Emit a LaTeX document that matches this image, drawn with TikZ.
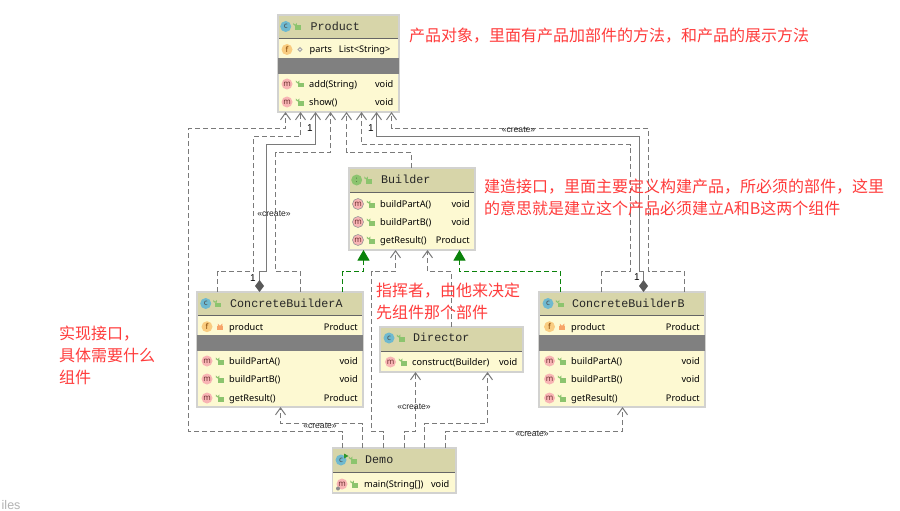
\documentclass[tikz,border=0pt]{standalone}
\usepackage{fontspec}
\setmainfont{Noto Sans}
\newfontfamily\cjk{Noto Sans CJK SC}
\newfontfamily\monof{Liberation Mono}
\newfontfamily\labf{Liberation Sans}
\usetikzlibrary{arrows.meta,shapes.geometric}
\definecolor{headc}{HTML}{D7D5A9}
\definecolor{bodyc}{HTML}{FDF9D2}
\definecolor{bordc}{HTML}{D2D2D0}
\definecolor{linec}{HTML}{7A7A7A}
\definecolor{redc}{HTML}{FF3C3C}
\definecolor{greenc}{HTML}{0A820A}
\definecolor{lockg}{HTML}{8CC46E}
\definecolor{locko}{HTML}{F7A468}
\definecolor{iconblue}{HTML}{6FB9CF}
\definecolor{iconpink}{HTML}{F8B4B4}
\definecolor{iconorange}{HTML}{F9CC80}
\newcounter{idn}
\tikzset{
  x=1pt,y=-1pt,
  classbody/.style={rectangle,fill=bodyc,inner sep=0pt,outer sep=0pt},
  frame/.style={draw=bordc,line width=1.2pt},
  titletext/.style={anchor=base west,inner sep=0pt,font=\fontsize{11.7}{14}\monof,text=black!85},
  rowtext/.style={anchor=base west,inner sep=0pt,font=\fontsize{9.2}{11}\selectfont,text=black},
  rowright/.style={anchor=base east,inner sep=0pt,font=\fontsize{9.2}{11}\selectfont,text=black},
  note/.style={anchor=west,inner sep=0pt,align=left,text=redc,font=\fontsize{16}{22}\cjk},
  createlabel/.style={inner sep=0pt,font=\fontsize{8.6}{10}\labf,text=black!85},
  onelabel/.style={inner sep=0pt,font=\fontsize{10}{12}\labf,text=black},
  iconbase/.style={circle,inner sep=0pt,minimum size=11pt,font=\fontsize{8}{8}\selectfont},
  iconc/.style={iconbase,fill=iconblue,text=black!70},
  iconi/.style={iconbase,fill=lockg,text=black!45!lockg},
  iconm/.style={iconbase,fill=iconpink,text=red!30!black!80},
  iconam/.style={iconm,draw=black!40,line width=.6pt},
  iconf/.style={iconbase,fill=iconorange,text=orange!50!black},
  dep/.style={draw=linec,line width=1pt,dash pattern=on 5pt off 3pt,-{Straight Barb[length=7pt,width=10pt,line width=1pt]}},
  impl/.style={draw=greenc,line width=1pt,dash pattern=on 5pt off 3pt,-{Triangle[length=10.5pt,width=12pt,fill=greenc,sep=0pt]}},
  comp/.style={draw=linec,line width=1pt,{Diamond[length=12pt,width=9pt,fill=black!65,color=black!65]}-{Straight Barb[length=7pt,width=10pt,line width=1pt,color=linec]}},
}
% box: name, x1,y1,x2,y2, header bottom
\newcommand{\umlbox}[6]{%
  \pgfmathsetmacro{\bw}{#4-#2}\pgfmathsetmacro{\bh}{#5-#3}%
  \pgfmathsetmacro{\cx}{(#2+#4)/2}\pgfmathsetmacro{\cy}{(#3+#5)/2}%
  \node[classbody,minimum width=\bw pt,minimum height=\bh pt] (#1) at (\cx,\cy) {};
  \fill[headc] (#2,#3) rectangle (#4,#6);
  \draw[black!60,line width=.8pt] (#2,#6) -- (#4,#6);
  \draw[frame] (#2,#3) rectangle (#4,#5);
}
\newcommand{\grayband}[4]{\fill[gray] (#1,#3) rectangle (#2,#4);}
\newcommand{\visopen}[2]{%
  \fill[lockg] (#1-2.5,#2-1) rectangle (#1+3.5,#2+3.5);
  \draw[lockg,line width=.9pt] (#1-1,#2-1) -- (#1-1,#2-2.5) arc (0:180:1.4) -- ++(0,1);
}
\newcommand{\visclosed}[2]{%
  \fill[locko] (#1-3,#2-.5) rectangle (#1+3,#2+3.5);
  \draw[locko,line width=.9pt] (#1-1.8,#2-.5) -- (#1-1.8,#2-2) arc (180:0:1.8) -- (#1+1.8,#2-.5);
}
\newcommand{\vispkg}[2]{\draw[black!35,fill=white,line width=1pt] (#1,#2) circle (1.8);}
% kind, vis, xicon, xlock, xtext, xright, y, left, right
\newcommand{\mrow}[9]{%
  \stepcounter{idn}%
  \pgfmathsetmacro{\by}{#7+3.3}%
  \node[#1] (ic\theidn) at (#3,#7) {\iconletter{#1}};
  #2{#4}{#7}
  \node[rowtext] (lt\theidn) at (#5,\by) {#8};
  \node[rowright] (rt\theidn) at (#6,\by) {#9};
}
\makeatletter
\newcommand{\iconletter}[1]{\def\@tmpa{#1}\def\@tmpb{iconf}\ifx\@tmpa\@tmpb f\else m\fi}
\makeatother
% kind, letter, xicon, xlock, xtitle, y, title
\newcommand{\trow}[7]{%
  \stepcounter{idn}%
  \pgfmathsetmacro{\by}{#6+3.7}%
  \node[#1] (ic\theidn) at (#3,#6) {#2};
  \visopen{#4}{#6}
  \node[titletext] (tt\theidn) at (#5,\by) {#7};
}
\begin{document}
\begin{tikzpicture}
\useasboundingbox (0,0) rectangle (900,511);
\fill[white] (0,0) rectangle (900,511);

% Product
\umlbox{prod}{278}{15}{399}{112}{38}
\grayband{278}{399}{58}{74}
\trow{iconc}{c}{285.7}{297.5}{310.5}{26.5}{Product}
\mrow{iconf}{\vispkg}{287}{300}{309.5}{390.5}{49.5}{parts}{List<String>}
\mrow{iconm}{\visopen}{287}{300}{309}{393.5}{84}{add(String)}{void}
\mrow{iconm}{\visopen}{287}{300}{309}{393.5}{102}{show()}{void}

% Builder
\umlbox{build}{349}{168}{475}{250}{192}
\trow{iconi}{:}{356.7}{368.5}{381}{180}{Builder}
\mrow{iconam}{\visopen}{358}{371}{380}{470}{204}{buildPartA()}{void}
\mrow{iconam}{\visopen}{358}{371}{380}{470}{222}{buildPartB()}{void}
\mrow{iconam}{\visopen}{358}{371}{380}{470}{240}{getResult()}{Product}

% ConcreteBuilderA
\umlbox{cba}{197}{292}{363}{407}{315}
\grayband{197}{363}{335}{351}
\trow{iconc}{c}{205.7}{217.5}{230}{303.5}{ConcreteBuilderA}
\mrow{iconf}{\visclosed}{207}{220}{229}{358}{326.7}{product}{Product}
\mrow{iconm}{\visopen}{207}{220}{229}{358}{361}{buildPartA()}{void}
\mrow{iconm}{\visopen}{207}{220}{229}{358}{379}{buildPartB()}{void}
\mrow{iconm}{\visopen}{207}{220}{229}{358}{398}{getResult()}{Product}

% ConcreteBuilderB
\umlbox{cbb}{539}{292}{705}{407}{315}
\grayband{539}{705}{335}{351}
\trow{iconc}{c}{548}{560}{572}{303.5}{ConcreteBuilderB}
\mrow{iconf}{\visclosed}{549.5}{562}{571}{700}{326.7}{product}{Product}
\mrow{iconm}{\visopen}{549.5}{562}{571}{700}{361}{buildPartA()}{void}
\mrow{iconm}{\visopen}{549.5}{562}{571}{700}{379}{buildPartB()}{void}
\mrow{iconm}{\visopen}{549.5}{562}{571}{700}{398}{getResult()}{Product}

% Director
\umlbox{dir}{380}{327}{523}{372}{351}
\trow{iconc}{c}{389}{401}{413}{338}{Director}
\mrow{iconm}{\visopen}{390.5}{403}{412}{517.5}{362}{construct(Builder)}{void}

% Demo
\umlbox{demo}{332.5}{448}{456}{493}{472}
\trow{iconc}{c}{341}{353}{365}{460}{Demo}
\fill[greenc!70!lockg] (344,453.5) -- (348.5,456) -- (344,458.5) -- cycle;
\mrow{iconm}{\visopen}{342}{354.5}{364}{449.5}{484}{main(String[])}{void}
\fill[black!45] (338,488.5) circle (2);

% Connectors to Product
\draw[dep] (342.5,0 |- demo.north) |- (188.5,431.5) |- (285.5,128.5) -- (285.5,0 |- prod.south);
\draw[dep] (217.5,0 |- cba.north) |- (253.5,271.5) |- (300.5,136.5) -- (300.5,0 |- prod.south);
\draw[comp] (259.5,0 |- cba.north) -- (259.5,271.5) -| (266.5,144.5) -| (315.5,0 |- prod.south);
\draw[dep] (300.5,0 |- cba.north) |- (275.5,271.5) |- (330.5,152.5) -- (330.5,0 |- prod.south);
\draw[dep] (411.5,0 |- build.north) |- (346.5,152.5) -- (346.5,0 |- prod.south);
\draw[dep] (601.5,0 |- cbb.north) |- (630.5,271.5) |- (361.5,144.5) -- (361.5,0 |- prod.south);
\draw[comp] (643.5,0 |- cbb.north) -- (643.5,271.5) -| (639.5,136.5) -| (376.5,0 |- prod.south);
\draw[dep] (684.5,0 |- cbb.north) |- (648.5,271.5) |- (391.5,128.5) -- (391.5,0 |- prod.south);

% Connectors to Builder
\draw[impl] (342.5,0 |- cba.north) |- (363.5,271.5) -- (363.5,0 |- build.south);
\draw[impl] (560.5,0 |- cbb.north) |- (459.5,271.5) -- (459.5,0 |- build.south);
\draw[dep] (383.5,0 |- demo.north) |- (371.5,431.5) |- (395.5,271.5) -- (395.5,0 |- build.south);
\draw[dep] (451.5,0 |- dir.north) |- (427.5,271.5) -- (427.5,0 |- build.south);

% Demo creates
\draw[dep] (362.5,0 |- demo.north) |- (280.5,423.5) -- (280.5,0 |- cba.south);
\draw[dep] (404.5,0 |- demo.north) |- (415.5,431.5) -- (415.5,0 |- dir.south);
\draw[dep] (424.5,0 |- demo.north) |- (487.5,423.5) -- (487.5,0 |- dir.south);
\draw[dep] (445.5,0 |- demo.north) |- (622.5,431.5) -- (622.5,0 |- cbb.south);

% Connector labels
\node[createlabel] (c1) at (518.5,130) {«create»};
\node[createlabel] (c2) at (274,214) {«create»};
\node[createlabel] (c3) at (320,426) {«create»};
\node[createlabel] (c4) at (414,407) {«create»};
\node[createlabel] (c5) at (532,434) {«create»};
\node[onelabel] (o1) at (310,128.5) {1};
\node[onelabel] (o2) at (371,128.5) {1};
\node[onelabel] (o3) at (253,278) {1};
\node[onelabel] (o4) at (637,277.5) {1};

% Notes
\node[note] (n1) at (409,35.5) {产品对象，里面有产品加部件的方法，和产品的展示方法};
\node[note] (n2) at (484,197) {建造接口，里面主要定义构建产品，所必须的部件，这里\\的意思就是建立这个产品必须建立A和B这两个组件};
\node[note] (n3) at (376,301) {指挥者，由他来决定\\先组件那个部件};
\node[note] (n4) at (59,355) {实现接口，\\具体需要什么\\组件};
\node[anchor=base west,inner sep=0pt,font=\fontsize{12.5}{14}\labf,text=black!30] (n5) at (1.5,509) {iles};
\end{tikzpicture}
\end{document}
